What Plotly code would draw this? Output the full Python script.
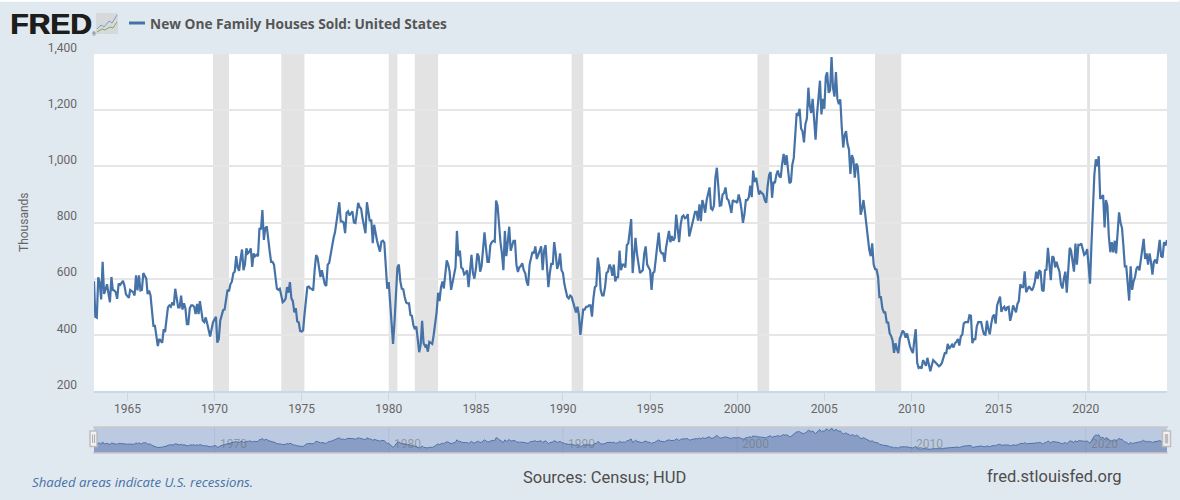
import pandas as pd
import plotly.graph_objects as go

# monthly sales, thousands, one row per year
sales_1960s = [
    591,464,461,605,586,526,660,546,562,580,548,516,
    606,560,558,552,528,582,578,585,592,575,545,538,
    532,560,556,552,540,612,558,612,558,560,620,610,
    600,545,558,540,474,432,432,385,360,385,378,372,
    420,410,455,498,505,500,516,505,564,530,498,498,
    540,490,512,495,438,438,495,505,505,500,474,510,
    474,520,490,450,445,462,440,420,394,420,445,455,
]
sales_1970s = [
    464,372,385,450,470,488,490,530,560,555,580,590,
    620,625,680,640,628,670,704,630,650,708,690,695,
    708,642,690,680,685,680,780,775,844,738,780,786,
    730,700,660,660,650,600,564,560,564,540,516,520,
    530,570,550,588,530,520,480,495,448,445,414,412,
    416,470,530,570,572,565,564,558,630,684,675,640,
    606,630,604,580,574,650,656,690,710,745,765,800,
    834,872,804,804,800,762,835,840,825,834,840,800,
    798,830,870,855,850,815,790,762,872,830,804,810,
    726,792,760,735,715,696,732,735,728,644,564,588,
]
sales_1980s = [
    510,450,368,445,540,640,650,590,564,562,535,515,
    512,512,470,468,435,420,430,370,338,365,450,370,
    360,365,340,375,370,368,400,440,480,550,520,570,
    590,565,610,665,650,625,560,590,610,640,770,680,
    700,640,635,615,620,630,570,640,685,620,600,635,
    690,680,625,645,720,765,710,660,660,720,730,735,
    732,878,860,780,730,690,630,770,680,730,785,700,
    715,735,735,650,624,640,645,655,630,620,590,575,
    650,670,695,690,715,670,690,700,715,630,700,720,
    640,570,620,655,650,730,690,635,650,690,630,620,
]
sales_1990s = [
    580,555,535,530,540,535,515,490,480,500,470,400,
    440,490,490,500,500,505,505,465,530,570,575,675,
    640,560,540,540,570,620,625,650,640,610,650,590,
    605,605,700,630,650,650,640,720,725,770,812,620,
    680,745,690,660,620,625,630,690,715,650,640,630,
    560,620,625,680,730,764,700,690,690,660,710,740,
    770,730,752,735,745,828,780,730,790,820,825,815,
    818,830,750,775,800,815,838,838,807,865,805,880,
    860,835,880,905,925,850,845,860,960,995,940,860,
    862,900,905,925,885,880,860,834,880,875,875,870,
]
sales_2000s = [
    900,880,845,799,830,880,880,890,931,890,985,945,
    960,930,900,910,905,900,880,870,930,970,980,888,
    945,940,970,985,965,960,1010,1044,1005,1040,990,940,
    945,1005,1030,1130,1190,1180,1205,1135,1125,1085,1150,1170,
    1280,1215,1190,1240,1155,1095,1185,1245,1305,1185,1240,1205,
    1320,1335,1262,1270,1389,1280,1248,1336,1240,1221,1239,1140,
    1067,1110,1125,1080,1060,973,1040,1025,960,1010,1000,930,
    828,846,880,840,790,760,702,680,726,650,634,632,
    607,534,534,495,480,480,444,444,405,396,380,336,
    370,350,335,385,400,415,408,390,405,375,360,345,
]
sales_2010s = [
    335,380,420,300,282,285,280,310,300,290,318,290,
    270,290,310,305,300,292,288,292,300,318,335,335,
    368,350,358,365,355,370,375,385,362,395,400,440,
    445,445,445,470,468,370,385,385,430,445,445,445,
    420,402,400,450,420,402,440,465,472,440,505,520,
    536,482,495,500,485,498,500,450,470,505,490,480,
    510,520,580,570,570,626,552,565,573,565,558,570,
    590,625,600,630,625,560,555,630,632,710,640,595,
    680,675,640,660,640,625,580,565,600,625,550,620,
    710,700,650,625,725,650,720,720,725,705,685,690,
]
sales_2020s = [
    705,650,582,720,850,970,1025,1000,1036,884,890,898,
    782,880,860,750,694,730,694,735,690,780,836,800,
    780,720,644,644,570,522,644,560,590,606,636,644,
    630,670,705,742,670,690,650,690,660,614,660,668,
    654,700,738,680,676,730,718,738,
]
recession_starts = ['1969-12-01','1973-11-01','1980-01-01','1981-07-01','1990-07-01','2001-03-01','2007-12-01','2020-02-01']
recession_ends = ['1970-11-01','1975-03-01','1980-07-01','1982-11-01','1991-03-01','2001-11-01','2009-06-01','2020-04-01']
navigator_years = [1970,1980,1990,2000,2010,2020]

sales = sales_1960s + sales_1970s + sales_1980s + sales_1990s + sales_2000s + sales_2010s + sales_2020s
dates = pd.date_range('1963-02-01', periods=len(sales), freq='MS')
x_range = ['1963-02-01', '2024-09-01']

BG = '#e1e9f0'
BLUE = '#4572a7'
TICK = '#666666'

# pixel box of the plotting area, main plot + navigator
LEFT, RIGHT, TOP, BOTTOM = 94, 1167.5, 54, 453
MAIN_BOTTOM = 391
NAV_TOP = 427


def px(x):
    return (x - LEFT) / (RIGHT - LEFT)


def py(y):
    return (BOTTOM - y) / (BOTTOM - TOP)


def box(x0, y0, x1, y1, fill, line=None, width=0, layer='above'):
    return dict(type='rect', xref='paper', yref='paper', x0=px(x0), x1=px(x1), y0=py(y0), y1=py(y1),
                fillcolor=fill, line=dict(color=line, width=width), layer=layer)


def polyline(points, color, width):
    path = 'M' + ' L'.join(f'{px(a):.5f},{py(b):.5f}' for a, b in points)
    return dict(type='path', xref='paper', yref='paper', path=path, line=dict(color=color, width=width), layer='above')


def label(text, x, y, size, color, family='Roboto', anchor='left', shadow=None, **kw):
    font = dict(size=size, color=color, family=family)
    if shadow:
        font['shadow'] = shadow
    return dict(text=text, xref='paper', yref='paper', x=px(x), y=py(y), xanchor=anchor, yanchor='middle',
                showarrow=False, font=font, **kw)


fig = go.Figure()

fig.add_trace(go.Scatter(x=dates, y=sales, mode='lines', line=dict(color=BLUE, width=2.2), xaxis='x', yaxis='y', showlegend=False))
fig.add_trace(go.Scatter(x=dates, y=sales, mode='lines', line=dict(color='#4c74ab', width=1), fill='tozeroy',
                         fillcolor='#8a9ec5', xaxis='x2', yaxis='y2', showlegend=False))

shapes = []
for s, e in zip(recession_starts, recession_ends):
    shapes.append(dict(type='rect', xref='x', yref='y', x0=s, x1=e, y0=200, y1=1400,
                       fillcolor='#e3e3e3', line=dict(width=0), layer='below'))

# navigator background, year lines, borders, handles
shapes.append(box(LEFT, NAV_TOP, RIGHT, BOTTOM, '#bccae1', layer='below'))
shapes.append(polyline([(LEFT - 1, NAV_TOP), (RIGHT + 1, NAV_TOP)], '#c8c8c8', 1.5))
shapes.append(polyline([(LEFT - 1, BOTTOM), (RIGHT + 1, BOTTOM)], '#c8c8c8', 1.5))
annotations = []
for yr in navigator_years:
    shapes.append(dict(type='line', xref='x2', yref='y2 domain', x0=f'{yr}-01-01', x1=f'{yr}-01-01', y0=0, y1=1,
                       line=dict(color='rgba(90,90,90,0.10)', width=1), layer='above'))
    annotations.append(dict(text=str(yr), xref='x2', yref='paper', x=f'{yr}-01-01', y=py(444), xanchor='left', yanchor='middle',
                            xshift=3, showarrow=False, font=dict(size=12, color='rgba(110,110,110,0.55)', family='Roboto')))
shapes.append(box(90, 431, 97, 446.5, '#f2f2f2', '#bdbdbd', 1.5))
shapes.append(polyline([(92.6, 434.5), (92.6, 443)], '#a8a8a8', 1))
shapes.append(polyline([(94.6, 434.5), (94.6, 443)], '#a8a8a8', 1))
shapes.append(box(1163, 431, 1171, 446.5, '#f2f2f2', '#bdbdbd', 1.5))
shapes.append(box(1165.3, 434, 1168.7, 443.5, '#bdbdbd'))

# top strip, legend key and logo icon
shapes.append(dict(type='rect', xref='paper', yref='paper', x0=px(0), x1=px(1180), y0=py(1.7), y1=py(0),
                   fillcolor='#ffffff', line=dict(width=0), layer='above'))
shapes.append(polyline([(129, 23), (145, 23)], BLUE, 3))
shapes.append(box(96, 13, 118, 34, '#d6d9db', layer='above'))
shapes.append(polyline([(97, 29), (101, 25), (104, 27), (109, 21), (112, 23), (117, 15)], '#7f9fbc', 1))
shapes.append(polyline([(97, 32), (102, 29), (105, 30), (110, 27), (113, 28), (117, 22)], '#8aa65c', 1))

annotations += [
    label('<b>FRED</b>', 7.5, 23.5, 30, '#1d1d1b', family='Liberation Sans', shadow='0.8px 0 0 #1d1d1b'),
    label('®', 90, 33.5, 5, '#555555'),
    label('<b>New One Family Houses Sold: United States</b>', 148, 23.5, 13.7, '#555555', family='Open Sans'),
    label('Thousands', 24, 222, 12, TICK, anchor='center', textangle=-90),
    label('<i>Shaded areas indicate U.S. recessions.</i>', 30, 481.5, 13.2, BLUE, family='Open Sans'),
    label('Sources: Census; HUD', 605, 477, 16.5, '#4d4d4d', anchor='center'),
    label('fred.stlouisfed.org', 1054.5, 476.5, 16.5, '#4d4d4d', anchor='center'),
]

fig.update_layout(
    width=1180,
    height=500,
    margin=dict(l=LEFT, r=1180 - RIGHT, t=TOP, b=500 - BOTTOM, pad=0, autoexpand=False),
    paper_bgcolor=BG,
    plot_bgcolor='#ffffff',
    showlegend=False,
    font=dict(family='Roboto', color=TICK, size=12),
    shapes=shapes,
    annotations=annotations,
    xaxis=dict(range=x_range, type='date', domain=[0, 1], anchor='y', dtick='M60', tick0='1965-01-01', tickformat='%Y',
               showgrid=False, showline=True, linecolor='#ccd6eb', linewidth=1.5, ticks='outside', ticklen=8,
               tickcolor='#ccd6eb', ticklabelstandoff=-2, tickfont=dict(size=12, color=TICK)),
    yaxis=dict(range=[200, 1400], domain=[py(MAIN_BOTTOM), 1], anchor='x', tickvals=[200,400,600,800,1000,1200,1400],
               tickformat=',', showgrid=True, gridcolor='#e6e6e6', gridwidth=1.5, zeroline=False, showline=False,
               ticks='', ticklabelposition='outside top', ticklabelstandoff=16, ticklabelshift=2, tickfont=dict(size=12, color=TICK)),
    xaxis2=dict(range=x_range, type='date', domain=[0, 1], anchor='y2', showgrid=False, showticklabels=False, ticks=''),
    yaxis2=dict(range=[74, 1443], domain=[0, py(NAV_TOP)], anchor='x2', showgrid=False, showticklabels=False, ticks='', zeroline=False),
)

fig.write_html("out.html", config=dict(displayModeBar=False),
               post_script="document.body.style.margin='0';document.documentElement.style.overflow='hidden';")
